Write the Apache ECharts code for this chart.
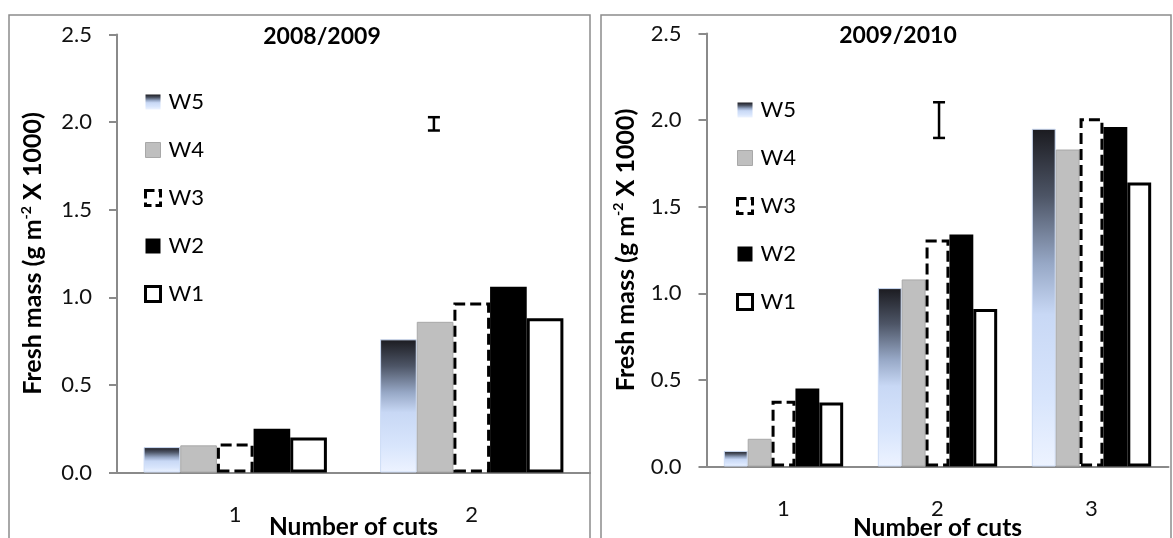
<!DOCTYPE html>
<html>
<head>
<meta charset="utf-8">
<script src="https://cdn.jsdelivr.net/npm/echarts@6/dist/echarts.min.js"></script>
<style>
html,body{margin:0;padding:0;background:#fff;}
#chart{width:1173px;height:538px;}
</style>
</head>
<body>
<div id="chart"></div>
<script>
// ---- data ----
const seriesNames = ['W5', 'W4', 'W3', 'W2', 'W1'];
const categories0809 = ['1', '2'];
const categories0910 = ['1', '2', '3'];
const w5_0809 = [0.145, 0.76];
const w4_0809 = [0.155, 0.86];
const w3_0809 = [0.165, 0.97];
const w2_0809 = [0.25, 1.06];
const w1_0809 = [0.20, 0.88];
const w5_0910 = [0.09, 1.03, 1.95];
const w4_0910 = [0.16, 1.08, 1.83];
const w3_0910 = [0.38, 1.31, 2.01];
const w2_0910 = [0.45, 1.34, 1.96];
const w1_0910 = [0.37, 0.91, 1.64];
// error bar: [position in category index units, centre, half length]
const errorBar0809 = [0.84, 1.99, 0.038];
const errorBar0910 = [1.01, 2.0, 0.103];
const yMin = 0, yMax = 2.5, yStep = 0.5;
const titles = ['2008/2009', '2009/2010'];
const yAxisNameMain = 'Fresh mass (g m';
const yAxisNameSup = '-2';
const yAxisNameEnd = ' X 1000)';
const xAxisName = 'Number of cuts';

// ---- styles ----
const FONT = 'Lato, "Liberation Sans", sans-serif';
const AXIS_GREY = '#8a8a8a';
const w5Fill = {
  type: 'linear', x: 0, y: 0, x2: 0, y2: 1,
  colorStops: [
    {offset: 0, color: '#1b1b20'},
    {offset: 0.2, color: '#4d5566'},
    {offset: 0.4, color: '#97a8c6'},
    {offset: 0.55, color: '#c8d8f5'},
    {offset: 0.8, color: '#d8e5fc'},
    {offset: 1, color: '#edf3ff'}
  ]
};
const styles = {
  W5: {color: w5Fill, borderColor: '#cddcf6', borderWidth: 1},
  W4: {color: '#bfbfbf', borderColor: '#a8a8a8', borderWidth: 1},
  W3: {color: '#ffffff', borderColor: '#000', borderWidth: 3, borderType: [11, 5]},
  W2: {color: '#000000', borderColor: '#000', borderWidth: 0},
  W1: {color: '#ffffff', borderColor: '#000', borderWidth: 3}
};
const legendIconStyles = {
  W5: {color: w5Fill, borderColor: '#cddcf6', borderWidth: 0},
  W4: {color: '#bfbfbf', borderColor: '#a8a8a8', borderWidth: 1},
  W3: {color: '#ffffff', borderColor: '#000', borderWidth: 3, borderType: [9, 4]},
  W2: {color: '#000000', borderColor: '#000', borderWidth: 0},
  W1: {color: '#ffffff', borderColor: '#000', borderWidth: 3}
};
const dataByPanel = [
  {W5: w5_0809, W4: w4_0809, W3: w3_0809, W2: w2_0809, W1: w1_0809},
  {W5: w5_0910, W4: w4_0910, W3: w3_0910, W2: w2_0910, W1: w1_0910}
];

function yAxis(gridIndex, gap) {
  return {
    type: 'value', gridIndex: gridIndex, min: yMin, max: yMax, interval: yStep,
    name: '{m|' + yAxisNameMain + '}{s|' + yAxisNameSup + '}{m|' + yAxisNameEnd + '}',
    nameLocation: 'middle', nameGap: gap, nameRotate: 90, nameMoveOverlap: false,
    nameTextStyle: {
      rich: {
        m: {fontFamily: FONT, fontWeight: 'bold', fontSize: 25, color: '#000', lineHeight: 28},
        s: {fontFamily: FONT, fontWeight: 'bold', fontSize: 14, color: '#000', lineHeight: 28, verticalAlign: 'top', padding: [0, 0, 11, 0]}
      }
    },
    axisLine: {show: true, onZero: false, lineStyle: {color: AXIS_GREY, width: 2}},
    axisTick: {show: true, length: 8, lineStyle: {color: AXIS_GREY, width: 2}},
    splitLine: {show: false},
    axisLabel: {margin: 25, fontFamily: FONT, fontSize: 22, color: '#111',
      formatter: v => v.toFixed(1)}
  };
}
function xAxis(gridIndex, cats, gap) {
  return {
    type: 'category', gridIndex: gridIndex, data: cats,
    name: xAxisName, nameLocation: 'middle', nameGap: gap, nameMoveOverlap: false,
    nameTextStyle: {fontFamily: FONT, fontWeight: 'bold', fontSize: 24.5, color: '#000', lineHeight: 29},
    axisLine: {show: true, onZero: false, lineStyle: {color: AXIS_GREY, width: 2}},
    axisTick: {show: false},
    axisLabel: {margin: 31, fontFamily: FONT, fontSize: 22, color: '#111'}
  };
}

const series = [];
[0, 1].forEach(p => {
  seriesNames.forEach(n => {
    series.push({
      type: 'bar', name: n, xAxisIndex: p, yAxisIndex: p,
      data: dataByPanel[p][n],
      barGap: '0%', barCategoryGap: '22.5%',
      itemStyle: styles[n],
      emphasis: {disabled: true},
      animation: false
    });
  });
});
function errorRender(params, api) {
  const x = api.value(0), c = api.value(1), h = api.value(2);
  const top = api.coord([x, c + h]);
  const bot = api.coord([x, c - h]);
  const cap = 6;
  const st = {stroke: '#000', lineWidth: 2.5};
  return {type: 'group', children: [
    {type: 'line', shape: {x1: top[0], y1: top[1], x2: bot[0], y2: bot[1]}, style: st},
    {type: 'line', shape: {x1: top[0] - cap, y1: top[1], x2: top[0] + cap, y2: top[1]}, style: st},
    {type: 'line', shape: {x1: bot[0] - cap, y1: bot[1], x2: bot[0] + cap, y2: bot[1]}, style: st}
  ]};
}
series.push({type: 'custom', xAxisIndex: 2, yAxisIndex: 0, data: [errorBar0809], renderItem: errorRender, animation: false, silent: true});
series.push({type: 'custom', xAxisIndex: 3, yAxisIndex: 1, data: [errorBar0910], renderItem: errorRender, animation: false, silent: true});

const legendCommon = {
  orient: 'vertical', itemWidth: 15, itemHeight: 15, itemGap: 26,
  data: seriesNames.map(n => ({name: n, icon: 'rect', itemStyle: legendIconStyles[n]})),
  selectedMode: false,
  textStyle: {fontFamily: FONT, fontSize: 22, color: '#000', lineHeight: 22, padding: [0, 0, 0, 3]}
};

const option = {
  backgroundColor: '#fff',
  animation: false,
  grid: [
    {left: 117, top: 34.5, width: 473, height: 438, outerBoundsMode: 'none', containLabel: false},
    {left: 706.5, top: 33.5, width: 462, height: 433, outerBoundsMode: 'none', containLabel: false}
  ],
  xAxis: [
    xAxis(0, categories0809, 40),
    xAxis(1, categories0910, 47),
    {type: 'value', gridIndex: 0, min: -0.5, max: categories0809.length - 0.5, show: false},
    {type: 'value', gridIndex: 1, min: -0.5, max: categories0910.length - 0.5, show: false}
  ],
  yAxis: [yAxis(0, 70), yAxis(1, 67)],
  legend: [
    Object.assign({left: 139, top: 86}, legendCommon),
    Object.assign({left: 731, top: 94}, legendCommon)
  ],
  graphic: [
    {type: 'rect', shape: {x: 9, y: 15, width: 581, height: 540}, style: {fill: 'none', stroke: '#8c8c8c', lineWidth: 1.5}, silent: true, z: -1},
    {type: 'rect', shape: {x: 601, y: 15, width: 570, height: 540}, style: {fill: 'none', stroke: '#8c8c8c', lineWidth: 1.5}, silent: true, z: -1},
    {type: 'text', x: 322, y: 37, style: {text: titles[0], fontFamily: FONT, fontWeight: 'bold', fontSize: 23, fill: '#000', textAlign: 'center', textVerticalAlign: 'middle'}},
    {type: 'text', x: 898, y: 36, style: {text: titles[1], fontFamily: FONT, fontWeight: 'bold', fontSize: 23, fill: '#000', textAlign: 'center', textVerticalAlign: 'middle'}}
  ],
  series: series
};
const chart = echarts.init(document.getElementById('chart'), null, {renderer: 'canvas'});
chart.setOption(option);
</script>
</body>
</html>
